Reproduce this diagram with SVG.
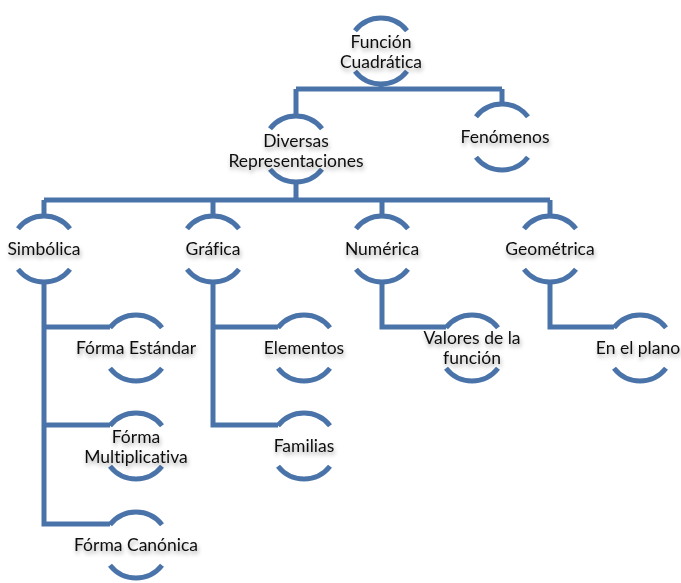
<svg xmlns="http://www.w3.org/2000/svg" width="681" height="583" viewBox="0 0 681 583">
<style>
.c{fill:none;stroke:#4a74a9;stroke-width:5;stroke-linejoin:miter;stroke-linecap:butt}
.r{fill:none;stroke:#4a74a9;stroke-width:5;stroke-linecap:butt}
.t{font-family:Lato,"Open Sans","Liberation Sans",sans-serif;font-size:17.5px;fill:#111;text-anchor:middle;font-variant-ligatures:none;font-feature-settings:"liga" 0;filter:url(#sh)}
</style>
<defs>
<filter id="sh" x="-20%" y="-40%" width="140%" height="200%">
<feDropShadow dx="1" dy="3" stdDeviation="2" flood-color="#000" flood-opacity="0.35"/>
</filter>
<path id="ring" d="M-26,-20.3 A33,33 0 0 1 26,-20.3 M26,20.3 A33,33 0 0 1 -26,20.3"/>
</defs>
<rect width="681" height="583" fill="#fff"/>
<g id="connectors" class="c">
<path d="M381,84 V89 M296,89 H502 M296,89 V116 M502,89 V104"/>
<path d="M296,182 V200 M44,200 H550 M44,200 V216 M213,200 V216 M382,200 V216 M550,200 V216"/>
<path d="M44,282 V524 H110 M44,327 H110 M44,425 H110"/>
<path d="M213,282 V425 H278 M213,327 H278"/>
<path d="M382,282 V327 H446"/>
<path d="M550,282 V327 H614"/>
</g>
<g id="n-funcion"><use href="#ring" class="r" transform="translate(381,51)"/><text class="t" x="381" y="48">Función</text><text class="t" x="381" y="68">Cuadrática</text></g>
<g id="n-diversas"><use href="#ring" class="r" transform="translate(296,149)"/><text class="t" x="296" y="147">Diversas</text><text class="t" x="296" y="167">Representaciones</text></g>
<g id="n-fenomenos"><use href="#ring" class="r" transform="translate(502,137)"/><text class="t" x="505" y="143">Fenómenos</text></g>
<g id="n-simbolica"><use href="#ring" class="r" transform="translate(44,249)"/><text class="t" x="44" y="255">Simbólica</text></g>
<g id="n-grafica"><use href="#ring" class="r" transform="translate(213,249)"/><text class="t" x="213" y="255">Gráfica</text></g>
<g id="n-numerica"><use href="#ring" class="r" transform="translate(382,249)"/><text class="t" x="382" y="255">Numérica</text></g>
<g id="n-geometrica"><use href="#ring" class="r" transform="translate(550,249)"/><text class="t" x="550" y="255">Geométrica</text></g>
<g id="n-estandar"><use href="#ring" class="r" transform="translate(136,348)"/><text class="t" x="136" y="354">Fórma Estándar</text></g>
<g id="n-multiplicativa"><use href="#ring" class="r" transform="translate(136,446)"/><text class="t" x="136" y="443">Fórma</text><text class="t" x="136" y="463">Multiplicativa</text></g>
<g id="n-canonica"><use href="#ring" class="r" transform="translate(136,545)"/><text class="t" x="136" y="551">Fórma Canónica</text></g>
<g id="n-elementos"><use href="#ring" class="r" transform="translate(304,348)"/><text class="t" x="304" y="354">Elementos</text></g>
<g id="n-familias"><use href="#ring" class="r" transform="translate(304,446)"/><text class="t" x="304" y="452">Familias</text></g>
<g id="n-valores"><use href="#ring" class="r" transform="translate(472,348)"/><text class="t" x="472" y="344">Valores de la</text><text class="t" x="472" y="364">función</text></g>
<g id="n-plano"><use href="#ring" class="r" transform="translate(640,348)"/><text class="t" x="638" y="354">En el plano</text></g>
</svg>
